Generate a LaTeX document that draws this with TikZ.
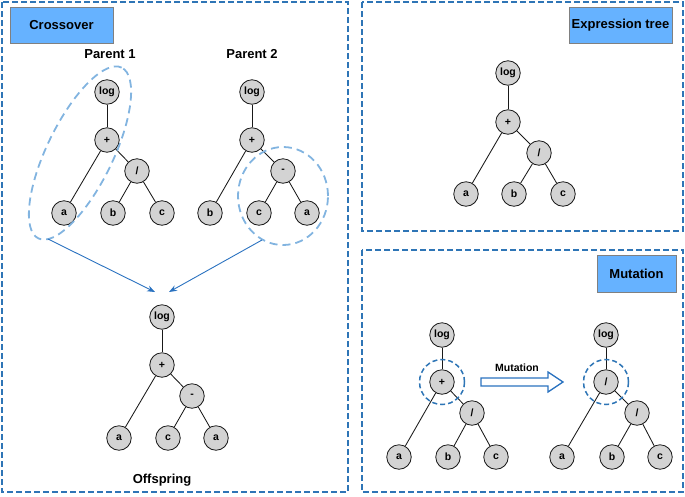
\documentclass[tikz,border=0pt]{standalone}
\usepackage{fontspec}
\setmainfont{Liberation Sans}
\usetikzlibrary{arrows.meta,shapes.geometric}
\definecolor{pblue}{HTML}{2E75B6}
\definecolor{lblue}{HTML}{82B4E0}
\definecolor{tagblue}{HTML}{66B2FF}
\definecolor{nodegray}{HTML}{D3D3D3}
\definecolor{arrblue}{HTML}{2A72C0}
\begin{document}
\begin{tikzpicture}[x=1pt,y=-1pt,
 tn/.style={circle,draw=black!90,fill=nodegray,line width=0.8pt,minimum size=24.5pt,inner sep=0pt,font=\bfseries\fontsize{10.5}{12}\selectfont},
 edge/.style={line width=0.85pt,black!90},
 panel/.style={draw=pblue,line width=1.6pt,dash pattern=on 6pt off 3pt},
 tag/.style={draw=black!50,fill=tagblue,line width=0.8pt,inner sep=0pt,font=\bfseries\fontsize{13}{15}\selectfont},
 title/.style={font=\bfseries\fontsize{13}{15}\selectfont},
 sel/.style={draw=lblue,line width=1.8pt,dash pattern=on 8pt off 5pt},
 selc/.style={circle,draw=pblue,line width=1.5pt,dash pattern=on 5pt off 3pt,minimum size=45pt,inner sep=0pt},
 xarrow/.style={arrblue,line width=0.9pt,-{Stealth[length=8pt,width=6pt]}}
]
\useasboundingbox (0,0) rectangle (685,496);
% panels
\draw[panel] (2,2) rectangle (348,492);
\draw[panel] (362,2) rectangle (683,231);
\draw[panel] (362,250) rectangle (683,492);
% tags
\node[tag,minimum width=103pt,minimum height=36pt] (tcross) at (61.5,25) {Crossover};
\node[tag,minimum width=103pt,minimum height=36pt] (texpr) at (620.5,25) {Expression tree};
\node[tag,minimum width=79pt,minimum height=37pt] (tmut) at (636.5,273.5) {Mutation};
% titles
\node[title] (lp1) at (110,54) {Parent 1};
\node[title] (lp2) at (252,54) {Parent 2};
\node[title] (loff) at (162,480) {Offspring};
% Parent 1
\node[tn] (p1log) at (107,92) {log};
\node[tn] (p1plus) at (107,140) {+};
\node[tn] (p1div) at (137,171) {/};
\node[tn] (p1a) at (64,213) {a};
\node[tn] (p1b) at (113,213) {b};
\node[tn] (p1c) at (162,213) {c};
\draw[edge] (p1log) -- (p1plus);
\draw[edge] (p1plus) -- (p1a);
\draw[edge] (p1plus) -- (p1div);
\draw[edge] (p1div) -- (p1b);
\draw[edge] (p1div) -- (p1c);
% Parent 2
\node[tn] (p2log) at (252,92) {log};
\node[tn] (p2plus) at (252,140) {+};
\node[tn] (p2min) at (283,171) {-};
\node[tn] (p2b) at (210,213) {b};
\node[tn] (p2c) at (259,213) {c};
\node[tn] (p2a) at (307,213) {a};
\draw[edge] (p2log) -- (p2plus);
\draw[edge] (p2plus) -- (p2b);
\draw[edge] (p2plus) -- (p2min);
\draw[edge] (p2min) -- (p2c);
\draw[edge] (p2min) -- (p2a);
% selections
\node[sel,ellipse,minimum width=190pt,minimum height=66pt,rotate=64] (e1) at (80,153) {};
\node[sel,ellipse,minimum width=90pt,minimum height=98pt] (e2) at (283,196) {};
% crossover arrows
\coordinate (s1) at (48,239);
\coordinate (t1) at (155,292);
\coordinate (s2) at (262,240);
\coordinate (t2) at (169,292);
\draw[xarrow] (s1) -- (t1);
\draw[xarrow] (s2) -- (t2);
% Offspring
\node[tn] (olog) at (162,317) {log};
\node[tn] (oplus) at (162,365) {+};
\node[tn] (omin) at (192,396) {-};
\node[tn] (oa) at (119,438) {a};
\node[tn] (oc) at (168,438) {c};
\node[tn] (oa2) at (216,438) {a};
\draw[edge] (olog) -- (oplus);
\draw[edge] (oplus) -- (oa);
\draw[edge] (oplus) -- (omin);
\draw[edge] (omin) -- (oc);
\draw[edge] (omin) -- (oa2);
% Expression tree
\node[tn] (xlog) at (508,73) {log};
\node[tn] (xplus) at (508,122) {+};
\node[tn] (xdiv) at (539,153) {/};
\node[tn] (xa) at (466,194) {a};
\node[tn] (xb) at (514,194) {b};
\node[tn] (xc) at (563,194) {c};
\draw[edge] (xlog) -- (xplus);
\draw[edge] (xplus) -- (xa);
\draw[edge] (xplus) -- (xdiv);
\draw[edge] (xdiv) -- (xb);
\draw[edge] (xdiv) -- (xc);
% Mutation left tree
\node[tn] (mlog) at (442,335) {log};
\node[tn] (mplus) at (442,382) {+};
\node[tn] (mdiv) at (472,413) {/};
\node[tn] (ma) at (399,457) {a};
\node[tn] (mb) at (448,457) {b};
\node[tn] (mc) at (496,457) {c};
\draw[edge] (mlog) -- (mplus);
\draw[edge] (mplus) -- (ma);
\draw[edge] (mplus) -- (mdiv);
\draw[edge] (mdiv) -- (mb);
\draw[edge] (mdiv) -- (mc);
\node[selc] (mring1) at (mplus) {};
% Mutation right tree
\node[tn] (nlog) at (606,335) {log};
\node[tn] (ntop) at (606,382) {/};
\node[tn] (ndiv) at (637,413) {/};
\node[tn] (na) at (562,457) {a};
\node[tn] (nb) at (612,457) {b};
\node[tn] (nc) at (660,457) {c};
\draw[edge] (nlog) -- (ntop);
\draw[edge] (ntop) -- (na);
\draw[edge] (ntop) -- (ndiv);
\draw[edge] (ndiv) -- (nb);
\draw[edge] (ndiv) -- (nc);
\node[selc] (mring2) at (ntop) {};
% mutation arrow
\draw[arrblue,line width=1.3pt,fill=white] (481,378) -- (548,378) -- (548,372) -- (563,382) -- (548,392) -- (548,386) -- (481,386) -- cycle;
\node[font=\bfseries\fontsize{10.5}{12}\selectfont] (lmut) at (517,368) {Mutation};
\end{tikzpicture}
\end{document}
